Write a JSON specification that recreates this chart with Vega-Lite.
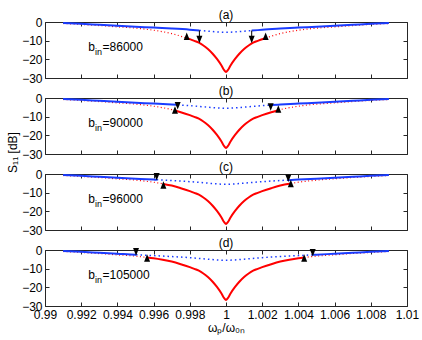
{
  "$schema": "https://vega.github.io/schema/vega-lite/v6.json",
  "padding": {"left": 5, "top": 8, "right": 5, "bottom": 5},
  "bounds": "flush",
  "spacing": 20,
  "config": {
    "font": "Liberation Sans",
    "view": {"stroke": "#262626", "strokeWidth": 1},
    "axis": {"grid": false, "domain": false, "tickSize": -4, "tickColor": "#262626", "labelFontSize": 12, "labelColor": "#000", "labelPadding": 7, "labelFlush": false, "labelOverlap": false, "titleFontSize": 12, "titleFontWeight": "normal", "titleColor": "#000"},
    "title": {"fontSize": 12, "fontWeight": "normal", "offset": -6, "color": "#000"}
  },
  "datasets": {
    "lines": [
      {"p":"a","s":"rs","g":"m","x":0.99783,"y":-8.7},{"p":"a","s":"rs","g":"m","x":0.998,"y":-9.2},{"p":"a","s":"rs","g":"m","x":0.99825,"y":-10.1},{"p":"a","s":"rs","g":"m","x":0.9985,"y":-11.1},{"p":"a","s":"rs","g":"m","x":0.99875,"y":-12.6},{"p":"a","s":"rs","g":"m","x":0.999,"y":-14.5},{"p":"a","s":"rs","g":"m","x":0.99925,"y":-16.9},{"p":"a","s":"rs","g":"m","x":0.9995,"y":-19.8},{"p":"a","s":"rs","g":"m","x":0.99975,"y":-23.3},{"p":"a","s":"rs","g":"m","x":0.9999,"y":-25.8},{"p":"a","s":"rs","g":"m","x":1.0,"y":-26.8},{"p":"a","s":"rs","g":"m","x":1.0001,"y":-25.8},{"p":"a","s":"rs","g":"m","x":1.00025,"y":-23.3},{"p":"a","s":"rs","g":"m","x":1.0005,"y":-19.8},{"p":"a","s":"rs","g":"m","x":1.00075,"y":-16.9},{"p":"a","s":"rs","g":"m","x":1.001,"y":-14.5},{"p":"a","s":"rs","g":"m","x":1.00125,"y":-12.6},{"p":"a","s":"rs","g":"m","x":1.0015,"y":-11.1},{"p":"a","s":"rs","g":"m","x":1.00175,"y":-10.1},{"p":"a","s":"rs","g":"m","x":1.002,"y":-9.2},{"p":"a","s":"rs","g":"m","x":1.00219,"y":-8.7},
      {"p":"a","s":"rd","g":"L","x":0.991,"y":-0.8},{"p":"a","s":"rd","g":"L","x":0.992,"y":-1.3},{"p":"a","s":"rd","g":"L","x":0.993,"y":-1.9},{"p":"a","s":"rd","g":"L","x":0.994,"y":-2.6},{"p":"a","s":"rd","g":"L","x":0.995,"y":-3.3},{"p":"a","s":"rd","g":"L","x":0.9955,"y":-3.8},{"p":"a","s":"rd","g":"L","x":0.996,"y":-4.4},{"p":"a","s":"rd","g":"L","x":0.9965,"y":-5.2},{"p":"a","s":"rd","g":"L","x":0.997,"y":-6.2},{"p":"a","s":"rd","g":"L","x":0.9975,"y":-7.6},{"p":"a","s":"rd","g":"L","x":0.99783,"y":-8.7},
      {"p":"a","s":"rd","g":"R","x":1.00219,"y":-8.7},{"p":"a","s":"rd","g":"R","x":1.0025,"y":-7.6},{"p":"a","s":"rd","g":"R","x":1.003,"y":-6.2},{"p":"a","s":"rd","g":"R","x":1.0035,"y":-5.2},{"p":"a","s":"rd","g":"R","x":1.004,"y":-4.4},{"p":"a","s":"rd","g":"R","x":1.0045,"y":-3.8},{"p":"a","s":"rd","g":"R","x":1.005,"y":-3.3},{"p":"a","s":"rd","g":"R","x":1.006,"y":-2.6},{"p":"a","s":"rd","g":"R","x":1.007,"y":-1.9},{"p":"a","s":"rd","g":"R","x":1.008,"y":-1.3},{"p":"a","s":"rd","g":"R","x":1.009,"y":-0.8},
      {"p":"a","s":"bs","g":"L","x":0.991,"y":-0.6},{"p":"a","s":"bs","g":"L","x":0.992,"y":-1.0},{"p":"a","s":"bs","g":"L","x":0.993,"y":-1.5},{"p":"a","s":"bs","g":"L","x":0.994,"y":-2.0},{"p":"a","s":"bs","g":"L","x":0.995,"y":-2.5},{"p":"a","s":"bs","g":"L","x":0.996,"y":-3.0},{"p":"a","s":"bs","g":"L","x":0.997,"y":-3.5},{"p":"a","s":"bs","g":"L","x":0.998,"y":-4.1},{"p":"a","s":"bs","g":"L","x":0.99853,"y":-4.5},
      {"p":"a","s":"bs","g":"R","x":1.00142,"y":-4.6},{"p":"a","s":"bs","g":"R","x":1.002,"y":-4.1},{"p":"a","s":"bs","g":"R","x":1.003,"y":-3.5},{"p":"a","s":"bs","g":"R","x":1.004,"y":-3.0},{"p":"a","s":"bs","g":"R","x":1.005,"y":-2.5},{"p":"a","s":"bs","g":"R","x":1.006,"y":-2.0},{"p":"a","s":"bs","g":"R","x":1.007,"y":-1.5},{"p":"a","s":"bs","g":"R","x":1.008,"y":-1.0},{"p":"a","s":"bs","g":"R","x":1.009,"y":-0.6},
      {"p":"a","s":"bd","g":"m","x":0.99853,"y":-4.5},{"p":"a","s":"bd","g":"m","x":0.999,"y":-4.9},{"p":"a","s":"bd","g":"m","x":0.9995,"y":-5.3},{"p":"a","s":"bd","g":"m","x":1.0,"y":-5.5},{"p":"a","s":"bd","g":"m","x":1.0005,"y":-5.3},{"p":"a","s":"bd","g":"m","x":1.001,"y":-4.9},{"p":"a","s":"bd","g":"m","x":1.00142,"y":-4.6},

      {"p":"b","s":"rs","g":"m","x":0.99718,"y":-6.7},{"p":"b","s":"rs","g":"m","x":0.9975,"y":-7.6},{"p":"b","s":"rs","g":"m","x":0.998,"y":-9.2},{"p":"b","s":"rs","g":"m","x":0.99825,"y":-10.1},{"p":"b","s":"rs","g":"m","x":0.9985,"y":-11.1},{"p":"b","s":"rs","g":"m","x":0.99875,"y":-12.6},{"p":"b","s":"rs","g":"m","x":0.999,"y":-14.5},{"p":"b","s":"rs","g":"m","x":0.99925,"y":-16.9},{"p":"b","s":"rs","g":"m","x":0.9995,"y":-19.8},{"p":"b","s":"rs","g":"m","x":0.99975,"y":-23.3},{"p":"b","s":"rs","g":"m","x":0.9999,"y":-25.8},{"p":"b","s":"rs","g":"m","x":1.0,"y":-26.8},{"p":"b","s":"rs","g":"m","x":1.0001,"y":-25.8},{"p":"b","s":"rs","g":"m","x":1.00025,"y":-23.3},{"p":"b","s":"rs","g":"m","x":1.0005,"y":-19.8},{"p":"b","s":"rs","g":"m","x":1.00075,"y":-16.9},{"p":"b","s":"rs","g":"m","x":1.001,"y":-14.5},{"p":"b","s":"rs","g":"m","x":1.00125,"y":-12.6},{"p":"b","s":"rs","g":"m","x":1.0015,"y":-11.1},{"p":"b","s":"rs","g":"m","x":1.00175,"y":-10.1},{"p":"b","s":"rs","g":"m","x":1.002,"y":-9.2},{"p":"b","s":"rs","g":"m","x":1.0025,"y":-7.6},{"p":"b","s":"rs","g":"m","x":1.00289,"y":-6.5},
      {"p":"b","s":"rd","g":"L","x":0.991,"y":-0.8},{"p":"b","s":"rd","g":"L","x":0.992,"y":-1.3},{"p":"b","s":"rd","g":"L","x":0.993,"y":-1.9},{"p":"b","s":"rd","g":"L","x":0.994,"y":-2.6},{"p":"b","s":"rd","g":"L","x":0.995,"y":-3.3},{"p":"b","s":"rd","g":"L","x":0.9955,"y":-3.8},{"p":"b","s":"rd","g":"L","x":0.996,"y":-4.4},{"p":"b","s":"rd","g":"L","x":0.9965,"y":-5.2},{"p":"b","s":"rd","g":"L","x":0.997,"y":-6.2},{"p":"b","s":"rd","g":"L","x":0.99718,"y":-6.7},
      {"p":"b","s":"rd","g":"R","x":1.00289,"y":-6.5},{"p":"b","s":"rd","g":"R","x":1.003,"y":-6.2},{"p":"b","s":"rd","g":"R","x":1.0035,"y":-5.2},{"p":"b","s":"rd","g":"R","x":1.004,"y":-4.4},{"p":"b","s":"rd","g":"R","x":1.0045,"y":-3.8},{"p":"b","s":"rd","g":"R","x":1.005,"y":-3.3},{"p":"b","s":"rd","g":"R","x":1.006,"y":-2.6},{"p":"b","s":"rd","g":"R","x":1.007,"y":-1.9},{"p":"b","s":"rd","g":"R","x":1.008,"y":-1.3},{"p":"b","s":"rd","g":"R","x":1.009,"y":-0.8},
      {"p":"b","s":"bs","g":"L","x":0.991,"y":-0.6},{"p":"b","s":"bs","g":"L","x":0.992,"y":-1.0},{"p":"b","s":"bs","g":"L","x":0.993,"y":-1.5},{"p":"b","s":"bs","g":"L","x":0.994,"y":-2.0},{"p":"b","s":"bs","g":"L","x":0.995,"y":-2.5},{"p":"b","s":"bs","g":"L","x":0.996,"y":-3.0},{"p":"b","s":"bs","g":"L","x":0.997,"y":-3.5},{"p":"b","s":"bs","g":"L","x":0.99733,"y":-3.7},
      {"p":"b","s":"bs","g":"R","x":1.00247,"y":-3.8},{"p":"b","s":"bs","g":"R","x":1.003,"y":-3.5},{"p":"b","s":"bs","g":"R","x":1.004,"y":-3.0},{"p":"b","s":"bs","g":"R","x":1.005,"y":-2.5},{"p":"b","s":"bs","g":"R","x":1.006,"y":-2.0},{"p":"b","s":"bs","g":"R","x":1.007,"y":-1.5},{"p":"b","s":"bs","g":"R","x":1.008,"y":-1.0},{"p":"b","s":"bs","g":"R","x":1.009,"y":-0.6},
      {"p":"b","s":"bd","g":"m","x":0.99733,"y":-3.7},{"p":"b","s":"bd","g":"m","x":0.998,"y":-4.1},{"p":"b","s":"bd","g":"m","x":0.9985,"y":-4.5},{"p":"b","s":"bd","g":"m","x":0.999,"y":-4.9},{"p":"b","s":"bd","g":"m","x":0.9995,"y":-5.3},{"p":"b","s":"bd","g":"m","x":1.0,"y":-5.5},{"p":"b","s":"bd","g":"m","x":1.0005,"y":-5.3},{"p":"b","s":"bd","g":"m","x":1.001,"y":-4.9},{"p":"b","s":"bd","g":"m","x":1.0015,"y":-4.5},{"p":"b","s":"bd","g":"m","x":1.002,"y":-4.1},{"p":"b","s":"bd","g":"m","x":1.00247,"y":-3.8},

      {"p":"c","s":"rs","g":"m","x":0.99654,"y":-5.3},{"p":"c","s":"rs","g":"m","x":0.997,"y":-6.2},{"p":"c","s":"rs","g":"m","x":0.9975,"y":-7.6},{"p":"c","s":"rs","g":"m","x":0.998,"y":-9.2},{"p":"c","s":"rs","g":"m","x":0.99825,"y":-10.1},{"p":"c","s":"rs","g":"m","x":0.9985,"y":-11.1},{"p":"c","s":"rs","g":"m","x":0.99875,"y":-12.6},{"p":"c","s":"rs","g":"m","x":0.999,"y":-14.5},{"p":"c","s":"rs","g":"m","x":0.99925,"y":-16.9},{"p":"c","s":"rs","g":"m","x":0.9995,"y":-19.8},{"p":"c","s":"rs","g":"m","x":0.99975,"y":-23.3},{"p":"c","s":"rs","g":"m","x":0.9999,"y":-25.8},{"p":"c","s":"rs","g":"m","x":1.0,"y":-26.8},{"p":"c","s":"rs","g":"m","x":1.0001,"y":-25.8},{"p":"c","s":"rs","g":"m","x":1.00025,"y":-23.3},{"p":"c","s":"rs","g":"m","x":1.0005,"y":-19.8},{"p":"c","s":"rs","g":"m","x":1.00075,"y":-16.9},{"p":"c","s":"rs","g":"m","x":1.001,"y":-14.5},{"p":"c","s":"rs","g":"m","x":1.00125,"y":-12.6},{"p":"c","s":"rs","g":"m","x":1.0015,"y":-11.1},{"p":"c","s":"rs","g":"m","x":1.00175,"y":-10.1},{"p":"c","s":"rs","g":"m","x":1.002,"y":-9.2},{"p":"c","s":"rs","g":"m","x":1.0025,"y":-7.6},{"p":"c","s":"rs","g":"m","x":1.003,"y":-6.2},{"p":"c","s":"rs","g":"m","x":1.00358,"y":-5.1},
      {"p":"c","s":"rd","g":"L","x":0.991,"y":-0.8},{"p":"c","s":"rd","g":"L","x":0.992,"y":-1.3},{"p":"c","s":"rd","g":"L","x":0.993,"y":-1.9},{"p":"c","s":"rd","g":"L","x":0.994,"y":-2.6},{"p":"c","s":"rd","g":"L","x":0.995,"y":-3.3},{"p":"c","s":"rd","g":"L","x":0.9955,"y":-3.8},{"p":"c","s":"rd","g":"L","x":0.996,"y":-4.4},{"p":"c","s":"rd","g":"L","x":0.99654,"y":-5.3},
      {"p":"c","s":"rd","g":"R","x":1.00358,"y":-5.1},{"p":"c","s":"rd","g":"R","x":1.004,"y":-4.4},{"p":"c","s":"rd","g":"R","x":1.0045,"y":-3.8},{"p":"c","s":"rd","g":"R","x":1.005,"y":-3.3},{"p":"c","s":"rd","g":"R","x":1.006,"y":-2.6},{"p":"c","s":"rd","g":"R","x":1.007,"y":-1.9},{"p":"c","s":"rd","g":"R","x":1.008,"y":-1.3},{"p":"c","s":"rd","g":"R","x":1.009,"y":-0.8},
      {"p":"c","s":"bs","g":"L","x":0.991,"y":-0.6},{"p":"c","s":"bs","g":"L","x":0.992,"y":-1.0},{"p":"c","s":"bs","g":"L","x":0.993,"y":-1.5},{"p":"c","s":"bs","g":"L","x":0.994,"y":-2.0},{"p":"c","s":"bs","g":"L","x":0.995,"y":-2.5},{"p":"c","s":"bs","g":"L","x":0.996,"y":-3.0},{"p":"c","s":"bs","g":"L","x":0.99617,"y":-3.1},
      {"p":"c","s":"bs","g":"R","x":1.00344,"y":-3.3},{"p":"c","s":"bs","g":"R","x":1.004,"y":-3.0},{"p":"c","s":"bs","g":"R","x":1.005,"y":-2.5},{"p":"c","s":"bs","g":"R","x":1.006,"y":-2.0},{"p":"c","s":"bs","g":"R","x":1.007,"y":-1.5},{"p":"c","s":"bs","g":"R","x":1.008,"y":-1.0},{"p":"c","s":"bs","g":"R","x":1.009,"y":-0.6},
      {"p":"c","s":"bd","g":"m","x":0.99617,"y":-3.1},{"p":"c","s":"bd","g":"m","x":0.997,"y":-3.5},{"p":"c","s":"bd","g":"m","x":0.998,"y":-4.1},{"p":"c","s":"bd","g":"m","x":0.999,"y":-4.9},{"p":"c","s":"bd","g":"m","x":0.9995,"y":-5.3},{"p":"c","s":"bd","g":"m","x":1.0,"y":-5.5},{"p":"c","s":"bd","g":"m","x":1.0005,"y":-5.3},{"p":"c","s":"bd","g":"m","x":1.001,"y":-4.9},{"p":"c","s":"bd","g":"m","x":1.002,"y":-4.1},{"p":"c","s":"bd","g":"m","x":1.003,"y":-3.5},{"p":"c","s":"bd","g":"m","x":1.00344,"y":-3.3},

      {"p":"d","s":"rs","g":"m","x":0.99564,"y":-4.0},{"p":"d","s":"rs","g":"m","x":0.996,"y":-4.4},{"p":"d","s":"rs","g":"m","x":0.9965,"y":-5.2},{"p":"d","s":"rs","g":"m","x":0.997,"y":-6.2},{"p":"d","s":"rs","g":"m","x":0.9975,"y":-7.6},{"p":"d","s":"rs","g":"m","x":0.998,"y":-9.2},{"p":"d","s":"rs","g":"m","x":0.99825,"y":-10.1},{"p":"d","s":"rs","g":"m","x":0.9985,"y":-11.1},{"p":"d","s":"rs","g":"m","x":0.99875,"y":-12.6},{"p":"d","s":"rs","g":"m","x":0.999,"y":-14.5},{"p":"d","s":"rs","g":"m","x":0.99925,"y":-16.9},{"p":"d","s":"rs","g":"m","x":0.9995,"y":-19.8},{"p":"d","s":"rs","g":"m","x":0.99975,"y":-23.3},{"p":"d","s":"rs","g":"m","x":0.9999,"y":-25.8},{"p":"d","s":"rs","g":"m","x":1.0,"y":-26.8},{"p":"d","s":"rs","g":"m","x":1.0001,"y":-25.8},{"p":"d","s":"rs","g":"m","x":1.00025,"y":-23.3},{"p":"d","s":"rs","g":"m","x":1.0005,"y":-19.8},{"p":"d","s":"rs","g":"m","x":1.00075,"y":-16.9},{"p":"d","s":"rs","g":"m","x":1.001,"y":-14.5},{"p":"d","s":"rs","g":"m","x":1.00125,"y":-12.6},{"p":"d","s":"rs","g":"m","x":1.0015,"y":-11.1},{"p":"d","s":"rs","g":"m","x":1.00175,"y":-10.1},{"p":"d","s":"rs","g":"m","x":1.002,"y":-9.2},{"p":"d","s":"rs","g":"m","x":1.0025,"y":-7.6},{"p":"d","s":"rs","g":"m","x":1.003,"y":-6.2},{"p":"d","s":"rs","g":"m","x":1.0035,"y":-5.2},{"p":"d","s":"rs","g":"m","x":1.004,"y":-4.4},{"p":"d","s":"rs","g":"m","x":1.00432,"y":-4.0},
      {"p":"d","s":"rd","g":"L","x":0.991,"y":-0.8},{"p":"d","s":"rd","g":"L","x":0.992,"y":-1.3},{"p":"d","s":"rd","g":"L","x":0.993,"y":-1.9},{"p":"d","s":"rd","g":"L","x":0.994,"y":-2.6},{"p":"d","s":"rd","g":"L","x":0.995,"y":-3.3},{"p":"d","s":"rd","g":"L","x":0.99564,"y":-4.0},
      {"p":"d","s":"rd","g":"R","x":1.00432,"y":-4.0},{"p":"d","s":"rd","g":"R","x":1.0045,"y":-3.8},{"p":"d","s":"rd","g":"R","x":1.005,"y":-3.3},{"p":"d","s":"rd","g":"R","x":1.006,"y":-2.6},{"p":"d","s":"rd","g":"R","x":1.007,"y":-1.9},{"p":"d","s":"rd","g":"R","x":1.008,"y":-1.3},{"p":"d","s":"rd","g":"R","x":1.009,"y":-0.8},
      {"p":"d","s":"bs","g":"L","x":0.991,"y":-0.6},{"p":"d","s":"bs","g":"L","x":0.992,"y":-1.0},{"p":"d","s":"bs","g":"L","x":0.993,"y":-1.5},{"p":"d","s":"bs","g":"L","x":0.994,"y":-2.0},{"p":"d","s":"bs","g":"L","x":0.995,"y":-2.5},{"p":"d","s":"bs","g":"L","x":0.99503,"y":-2.5},
      {"p":"d","s":"bs","g":"R","x":1.00479,"y":-2.6},{"p":"d","s":"bs","g":"R","x":1.005,"y":-2.5},{"p":"d","s":"bs","g":"R","x":1.006,"y":-2.0},{"p":"d","s":"bs","g":"R","x":1.007,"y":-1.5},{"p":"d","s":"bs","g":"R","x":1.008,"y":-1.0},{"p":"d","s":"bs","g":"R","x":1.009,"y":-0.6},
      {"p":"d","s":"bd","g":"m","x":0.99503,"y":-2.5},{"p":"d","s":"bd","g":"m","x":0.996,"y":-3.0},{"p":"d","s":"bd","g":"m","x":0.997,"y":-3.5},{"p":"d","s":"bd","g":"m","x":0.998,"y":-4.1},{"p":"d","s":"bd","g":"m","x":0.999,"y":-4.9},{"p":"d","s":"bd","g":"m","x":0.9995,"y":-5.3},{"p":"d","s":"bd","g":"m","x":1.0,"y":-5.5},{"p":"d","s":"bd","g":"m","x":1.0005,"y":-5.3},{"p":"d","s":"bd","g":"m","x":1.001,"y":-4.9},{"p":"d","s":"bd","g":"m","x":1.002,"y":-4.1},{"p":"d","s":"bd","g":"m","x":1.003,"y":-3.5},{"p":"d","s":"bd","g":"m","x":1.004,"y":-3.0},{"p":"d","s":"bd","g":"m","x":1.00479,"y":-2.6}
    ],
    "marks": [
      {"p":"a","k":"up","x":0.99783,"y":-7.6},{"p":"a","k":"up","x":1.00219,"y":-7.6},{"p":"a","k":"dn","x":0.99853,"y":-9.4},{"p":"a","k":"dn","x":1.00142,"y":-9.4},
      {"p":"b","k":"up","x":0.99718,"y":-6.4},{"p":"b","k":"dn","x":0.99733,"y":-4.1},{"p":"b","k":"dn","x":1.00247,"y":-4.8},{"p":"b","k":"up","x":1.00289,"y":-5.9},
      {"p":"c","k":"dn","x":0.99617,"y":-1.5},{"p":"c","k":"up","x":0.99654,"y":-5.9},{"p":"c","k":"dn","x":1.00344,"y":-2.3},{"p":"c","k":"up","x":1.00358,"y":-5.1},
      {"p":"d","k":"dn","x":0.99503,"y":-1.0},{"p":"d","k":"up","x":0.99564,"y":-4.3},{"p":"d","k":"up","x":1.00432,"y":-4.3},{"p":"d","k":"dn","x":1.00479,"y":-1.5}
    ],
    "stems": [
      {"p":"a","x":0.99853,"y":-4.5,"y2":-8.0},{"p":"a","x":1.00142,"y":-4.6,"y2":-8.0}
    ],
    "labels": [
      {"p":"a","x":0.99239,"y":-15.4,"t":"=86000"},{"p":"b","x":0.99239,"y":-15.4,"t":"=90000"},{"p":"c","x":0.99239,"y":-15.4,"t":"=96000"},{"p":"d","x":0.99239,"y":-15.4,"t":"=105000"}
    ]
  },
  "vconcat": [
    {
      "width": 362, "height": 56, "title": "(a)",
      "resolve": {"axis": {"x": "independent", "y": "independent"}},
      "layer": [
        {"data": {"name": "lines"}, "transform": [{"filter": "datum.p=='a'&&datum.s=='rd'"}],
         "mark": {"type": "line", "color": "#ff0000", "strokeWidth": 1.2, "strokeDash": [1, 2.5], "interpolate": "monotone"},
         "encoding": {"x": {"field": "x", "type": "quantitative", "scale": {"domain": [0.99, 1.01], "nice": false, "zero": false}, "axis": {"values": [0.99,0.992,0.994,0.996,0.998,1,1.002,1.004,1.006,1.008,1.01], "labels": false, "title": null}},
                      "y": {"field": "y", "type": "quantitative", "scale": {"domain": [-30, 0], "nice": false}, "axis": {"values": [0,-10,-20,-30], "title": null}},
                      "detail": {"field": "g"}}},
        {"data": {"name": "lines"}, "transform": [{"filter": "datum.p=='a'&&datum.s=='bd'"}],
         "mark": {"type": "line", "color": "#1a3cff", "strokeWidth": 1.5, "strokeDash": [1.5, 3], "interpolate": "monotone"},
         "encoding": {"x": {"field": "x", "type": "quantitative", "axis": {"orient": "top", "values": [0.99,0.992,0.994,0.996,0.998,1,1.002,1.004,1.006,1.008,1.01], "labels": false, "title": null}},
                      "y": {"field": "y", "type": "quantitative", "axis": {"orient": "right", "values": [0,-10,-20,-30], "labels": false, "title": null}}}},
        {"data": {"name": "lines"}, "transform": [{"filter": "datum.p=='a'&&datum.s=='bs'"}],
         "mark": {"type": "line", "color": "#1a3cff", "strokeWidth": 2, "interpolate": "monotone"},
         "encoding": {"x": {"field": "x", "type": "quantitative", "axis": null}, "y": {"field": "y", "type": "quantitative", "axis": null}, "detail": {"field": "g"}}},
        {"data": {"name": "lines"}, "transform": [{"filter": "datum.p=='a'&&datum.s=='rs'"}],
         "mark": {"type": "line", "color": "#ff0000", "strokeWidth": 2, "interpolate": "monotone"},
         "encoding": {"x": {"field": "x", "type": "quantitative", "axis": null}, "y": {"field": "y", "type": "quantitative", "axis": null}}},
        {"data": {"name": "stems"}, "transform": [{"filter": "datum.p=='a'"}],
         "mark": {"type": "rule", "color": "#000", "strokeWidth": 1},
         "encoding": {"x": {"field": "x", "type": "quantitative", "axis": null}, "y": {"field": "y", "type": "quantitative", "axis": null}, "y2": {"field": "y2"}}},
        {"data": {"name": "marks"}, "transform": [{"filter": "datum.p=='a'&&datum.k=='up'"}],
         "mark": {"type": "point", "shape": "M-0.75,0.94L0.75,0.94L0,-0.94Z", "filled": true, "color": "#000", "opacity": 1, "size": 64},
         "encoding": {"x": {"field": "x", "type": "quantitative", "axis": null}, "y": {"field": "y", "type": "quantitative", "axis": null}}},
        {"data": {"name": "marks"}, "transform": [{"filter": "datum.p=='a'&&datum.k=='dn'"}],
         "mark": {"type": "point", "shape": "M-0.75,-0.94L0.75,-0.94L0,0.94Z", "filled": true, "color": "#000", "opacity": 1, "size": 64},
         "encoding": {"x": {"field": "x", "type": "quantitative", "axis": null}, "y": {"field": "y", "type": "quantitative", "axis": null}}},
        {"data": {"name": "labels"}, "transform": [{"filter": "datum.p=='a'"}],
         "mark": {"type": "text", "text": "b", "align": "left", "baseline": "alphabetic", "fontSize": 12, "color": "#000"},
         "encoding": {"x": {"field": "x", "type": "quantitative", "axis": null}, "y": {"field": "y", "type": "quantitative", "axis": null}}},
        {"data": {"name": "labels"}, "transform": [{"filter": "datum.p=='a'"}],
         "mark": {"type": "text", "text": "in", "align": "left", "baseline": "alphabetic", "fontSize": 9, "dx": 6.8, "dy": 4, "color": "#000"},
         "encoding": {"x": {"field": "x", "type": "quantitative", "axis": null}, "y": {"field": "y", "type": "quantitative", "axis": null}}},
        {"data": {"name": "labels"}, "transform": [{"filter": "datum.p=='a'"}],
         "mark": {"type": "text", "align": "left", "baseline": "alphabetic", "fontSize": 12, "dx": 14.3, "color": "#000"},
         "encoding": {"x": {"field": "x", "type": "quantitative", "axis": null}, "y": {"field": "y", "type": "quantitative", "axis": null}, "text": {"field": "t"}}}
      ]
    },
    {
      "width": 362, "height": 56, "title": "(b)",
      "resolve": {"axis": {"x": "independent", "y": "independent"}},
      "layer": [
        {"data": {"name": "lines"}, "transform": [{"filter": "datum.p=='b'&&datum.s=='rd'"}],
         "mark": {"type": "line", "color": "#ff0000", "strokeWidth": 1.2, "strokeDash": [1, 2.5], "interpolate": "monotone"},
         "encoding": {"x": {"field": "x", "type": "quantitative", "scale": {"domain": [0.99, 1.01], "nice": false, "zero": false}, "axis": {"values": [0.99,0.992,0.994,0.996,0.998,1,1.002,1.004,1.006,1.008,1.01], "labels": false, "title": null}},
                      "y": {"field": "y", "type": "quantitative", "scale": {"domain": [-30, 0], "nice": false}, "axis": {"values": [0,-10,-20,-30], "title": "S₁₁ [dB]", "titleX": -33, "titleY": 54, "titleAngle": 270, "titleAlign": "center", "titleBaseline": "middle"}},
                      "detail": {"field": "g"}}},
        {"data": {"name": "lines"}, "transform": [{"filter": "datum.p=='b'&&datum.s=='bd'"}],
         "mark": {"type": "line", "color": "#1a3cff", "strokeWidth": 1.5, "strokeDash": [1.5, 3], "interpolate": "monotone"},
         "encoding": {"x": {"field": "x", "type": "quantitative", "axis": {"orient": "top", "values": [0.99,0.992,0.994,0.996,0.998,1,1.002,1.004,1.006,1.008,1.01], "labels": false, "title": null}},
                      "y": {"field": "y", "type": "quantitative", "axis": {"orient": "right", "values": [0,-10,-20,-30], "labels": false, "title": null}}}},
        {"data": {"name": "lines"}, "transform": [{"filter": "datum.p=='b'&&datum.s=='bs'"}],
         "mark": {"type": "line", "color": "#1a3cff", "strokeWidth": 2, "interpolate": "monotone"},
         "encoding": {"x": {"field": "x", "type": "quantitative", "axis": null}, "y": {"field": "y", "type": "quantitative", "axis": null}, "detail": {"field": "g"}}},
        {"data": {"name": "lines"}, "transform": [{"filter": "datum.p=='b'&&datum.s=='rs'"}],
         "mark": {"type": "line", "color": "#ff0000", "strokeWidth": 2, "interpolate": "monotone"},
         "encoding": {"x": {"field": "x", "type": "quantitative", "axis": null}, "y": {"field": "y", "type": "quantitative", "axis": null}}},
        {"data": {"name": "marks"}, "transform": [{"filter": "datum.p=='b'&&datum.k=='up'"}],
         "mark": {"type": "point", "shape": "M-0.75,0.94L0.75,0.94L0,-0.94Z", "filled": true, "color": "#000", "opacity": 1, "size": 64},
         "encoding": {"x": {"field": "x", "type": "quantitative", "axis": null}, "y": {"field": "y", "type": "quantitative", "axis": null}}},
        {"data": {"name": "marks"}, "transform": [{"filter": "datum.p=='b'&&datum.k=='dn'"}],
         "mark": {"type": "point", "shape": "M-0.75,-0.94L0.75,-0.94L0,0.94Z", "filled": true, "color": "#000", "opacity": 1, "size": 64},
         "encoding": {"x": {"field": "x", "type": "quantitative", "axis": null}, "y": {"field": "y", "type": "quantitative", "axis": null}}},
        {"data": {"name": "labels"}, "transform": [{"filter": "datum.p=='b'"}],
         "mark": {"type": "text", "text": "b", "align": "left", "baseline": "alphabetic", "fontSize": 12, "color": "#000"},
         "encoding": {"x": {"field": "x", "type": "quantitative", "axis": null}, "y": {"field": "y", "type": "quantitative", "axis": null}}},
        {"data": {"name": "labels"}, "transform": [{"filter": "datum.p=='b'"}],
         "mark": {"type": "text", "text": "in", "align": "left", "baseline": "alphabetic", "fontSize": 9, "dx": 6.8, "dy": 4, "color": "#000"},
         "encoding": {"x": {"field": "x", "type": "quantitative", "axis": null}, "y": {"field": "y", "type": "quantitative", "axis": null}}},
        {"data": {"name": "labels"}, "transform": [{"filter": "datum.p=='b'"}],
         "mark": {"type": "text", "align": "left", "baseline": "alphabetic", "fontSize": 12, "dx": 14.3, "color": "#000"},
         "encoding": {"x": {"field": "x", "type": "quantitative", "axis": null}, "y": {"field": "y", "type": "quantitative", "axis": null}, "text": {"field": "t"}}}
      ]
    },
    {
      "width": 362, "height": 56, "title": "(c)",
      "resolve": {"axis": {"x": "independent", "y": "independent"}},
      "layer": [
        {"data": {"name": "lines"}, "transform": [{"filter": "datum.p=='c'&&datum.s=='rd'"}],
         "mark": {"type": "line", "color": "#ff0000", "strokeWidth": 1.2, "strokeDash": [1, 2.5], "interpolate": "monotone"},
         "encoding": {"x": {"field": "x", "type": "quantitative", "scale": {"domain": [0.99, 1.01], "nice": false, "zero": false}, "axis": {"values": [0.99,0.992,0.994,0.996,0.998,1,1.002,1.004,1.006,1.008,1.01], "labels": false, "title": null}},
                      "y": {"field": "y", "type": "quantitative", "scale": {"domain": [-30, 0], "nice": false}, "axis": {"values": [0,-10,-20,-30], "title": null}},
                      "detail": {"field": "g"}}},
        {"data": {"name": "lines"}, "transform": [{"filter": "datum.p=='c'&&datum.s=='bd'"}],
         "mark": {"type": "line", "color": "#1a3cff", "strokeWidth": 1.5, "strokeDash": [1.5, 3], "interpolate": "monotone"},
         "encoding": {"x": {"field": "x", "type": "quantitative", "axis": {"orient": "top", "values": [0.99,0.992,0.994,0.996,0.998,1,1.002,1.004,1.006,1.008,1.01], "labels": false, "title": null}},
                      "y": {"field": "y", "type": "quantitative", "axis": {"orient": "right", "values": [0,-10,-20,-30], "labels": false, "title": null}}}},
        {"data": {"name": "lines"}, "transform": [{"filter": "datum.p=='c'&&datum.s=='bs'"}],
         "mark": {"type": "line", "color": "#1a3cff", "strokeWidth": 2, "interpolate": "monotone"},
         "encoding": {"x": {"field": "x", "type": "quantitative", "axis": null}, "y": {"field": "y", "type": "quantitative", "axis": null}, "detail": {"field": "g"}}},
        {"data": {"name": "lines"}, "transform": [{"filter": "datum.p=='c'&&datum.s=='rs'"}],
         "mark": {"type": "line", "color": "#ff0000", "strokeWidth": 2, "interpolate": "monotone"},
         "encoding": {"x": {"field": "x", "type": "quantitative", "axis": null}, "y": {"field": "y", "type": "quantitative", "axis": null}}},
        {"data": {"name": "marks"}, "transform": [{"filter": "datum.p=='c'&&datum.k=='up'"}],
         "mark": {"type": "point", "shape": "M-0.75,0.94L0.75,0.94L0,-0.94Z", "filled": true, "color": "#000", "opacity": 1, "size": 64},
         "encoding": {"x": {"field": "x", "type": "quantitative", "axis": null}, "y": {"field": "y", "type": "quantitative", "axis": null}}},
        {"data": {"name": "marks"}, "transform": [{"filter": "datum.p=='c'&&datum.k=='dn'"}],
         "mark": {"type": "point", "shape": "M-0.75,-0.94L0.75,-0.94L0,0.94Z", "filled": true, "color": "#000", "opacity": 1, "size": 64},
         "encoding": {"x": {"field": "x", "type": "quantitative", "axis": null}, "y": {"field": "y", "type": "quantitative", "axis": null}}},
        {"data": {"name": "labels"}, "transform": [{"filter": "datum.p=='c'"}],
         "mark": {"type": "text", "text": "b", "align": "left", "baseline": "alphabetic", "fontSize": 12, "color": "#000"},
         "encoding": {"x": {"field": "x", "type": "quantitative", "axis": null}, "y": {"field": "y", "type": "quantitative", "axis": null}}},
        {"data": {"name": "labels"}, "transform": [{"filter": "datum.p=='c'"}],
         "mark": {"type": "text", "text": "in", "align": "left", "baseline": "alphabetic", "fontSize": 9, "dx": 6.8, "dy": 4, "color": "#000"},
         "encoding": {"x": {"field": "x", "type": "quantitative", "axis": null}, "y": {"field": "y", "type": "quantitative", "axis": null}}},
        {"data": {"name": "labels"}, "transform": [{"filter": "datum.p=='c'"}],
         "mark": {"type": "text", "align": "left", "baseline": "alphabetic", "fontSize": 12, "dx": 14.3, "color": "#000"},
         "encoding": {"x": {"field": "x", "type": "quantitative", "axis": null}, "y": {"field": "y", "type": "quantitative", "axis": null}, "text": {"field": "t"}}}
      ]
    },
    {
      "width": 362, "height": 56, "title": "(d)",
      "resolve": {"axis": {"x": "independent", "y": "independent"}},
      "layer": [
        {"data": {"name": "lines"}, "transform": [{"filter": "datum.p=='d'&&datum.s=='rd'"}],
         "mark": {"type": "line", "color": "#ff0000", "strokeWidth": 1.2, "strokeDash": [1, 2.5], "interpolate": "monotone"},
         "encoding": {"x": {"field": "x", "type": "quantitative", "scale": {"domain": [0.99, 1.01], "nice": false, "zero": false}, "axis": {"values": [0.99,0.992,0.994,0.996,0.998,1,1.002,1.004,1.006,1.008,1.01], "format": "~g", "title": "ωₚ/ω₀ₙ", "titlePadding": 2}},
                      "y": {"field": "y", "type": "quantitative", "scale": {"domain": [-30, 0], "nice": false}, "axis": {"values": [0,-10,-20,-30], "title": null}},
                      "detail": {"field": "g"}}},
        {"data": {"name": "lines"}, "transform": [{"filter": "datum.p=='d'&&datum.s=='bd'"}],
         "mark": {"type": "line", "color": "#1a3cff", "strokeWidth": 1.5, "strokeDash": [1.5, 3], "interpolate": "monotone"},
         "encoding": {"x": {"field": "x", "type": "quantitative", "axis": {"orient": "top", "values": [0.99,0.992,0.994,0.996,0.998,1,1.002,1.004,1.006,1.008,1.01], "labels": false, "title": null}},
                      "y": {"field": "y", "type": "quantitative", "axis": {"orient": "right", "values": [0,-10,-20,-30], "labels": false, "title": null}}}},
        {"data": {"name": "lines"}, "transform": [{"filter": "datum.p=='d'&&datum.s=='bs'"}],
         "mark": {"type": "line", "color": "#1a3cff", "strokeWidth": 2, "interpolate": "monotone"},
         "encoding": {"x": {"field": "x", "type": "quantitative", "axis": null}, "y": {"field": "y", "type": "quantitative", "axis": null}, "detail": {"field": "g"}}},
        {"data": {"name": "lines"}, "transform": [{"filter": "datum.p=='d'&&datum.s=='rs'"}],
         "mark": {"type": "line", "color": "#ff0000", "strokeWidth": 2, "interpolate": "monotone"},
         "encoding": {"x": {"field": "x", "type": "quantitative", "axis": null}, "y": {"field": "y", "type": "quantitative", "axis": null}}},
        {"data": {"name": "marks"}, "transform": [{"filter": "datum.p=='d'&&datum.k=='up'"}],
         "mark": {"type": "point", "shape": "M-0.75,0.94L0.75,0.94L0,-0.94Z", "filled": true, "color": "#000", "opacity": 1, "size": 64},
         "encoding": {"x": {"field": "x", "type": "quantitative", "axis": null}, "y": {"field": "y", "type": "quantitative", "axis": null}}},
        {"data": {"name": "marks"}, "transform": [{"filter": "datum.p=='d'&&datum.k=='dn'"}],
         "mark": {"type": "point", "shape": "M-0.75,-0.94L0.75,-0.94L0,0.94Z", "filled": true, "color": "#000", "opacity": 1, "size": 64},
         "encoding": {"x": {"field": "x", "type": "quantitative", "axis": null}, "y": {"field": "y", "type": "quantitative", "axis": null}}},
        {"data": {"name": "labels"}, "transform": [{"filter": "datum.p=='d'"}],
         "mark": {"type": "text", "text": "b", "align": "left", "baseline": "alphabetic", "fontSize": 12, "color": "#000"},
         "encoding": {"x": {"field": "x", "type": "quantitative", "axis": null}, "y": {"field": "y", "type": "quantitative", "axis": null}}},
        {"data": {"name": "labels"}, "transform": [{"filter": "datum.p=='d'"}],
         "mark": {"type": "text", "text": "in", "align": "left", "baseline": "alphabetic", "fontSize": 9, "dx": 6.8, "dy": 4, "color": "#000"},
         "encoding": {"x": {"field": "x", "type": "quantitative", "axis": null}, "y": {"field": "y", "type": "quantitative", "axis": null}}},
        {"data": {"name": "labels"}, "transform": [{"filter": "datum.p=='d'"}],
         "mark": {"type": "text", "align": "left", "baseline": "alphabetic", "fontSize": 12, "dx": 14.3, "color": "#000"},
         "encoding": {"x": {"field": "x", "type": "quantitative", "axis": null}, "y": {"field": "y", "type": "quantitative", "axis": null}, "text": {"field": "t"}}}
      ]
    }
  ]
}
